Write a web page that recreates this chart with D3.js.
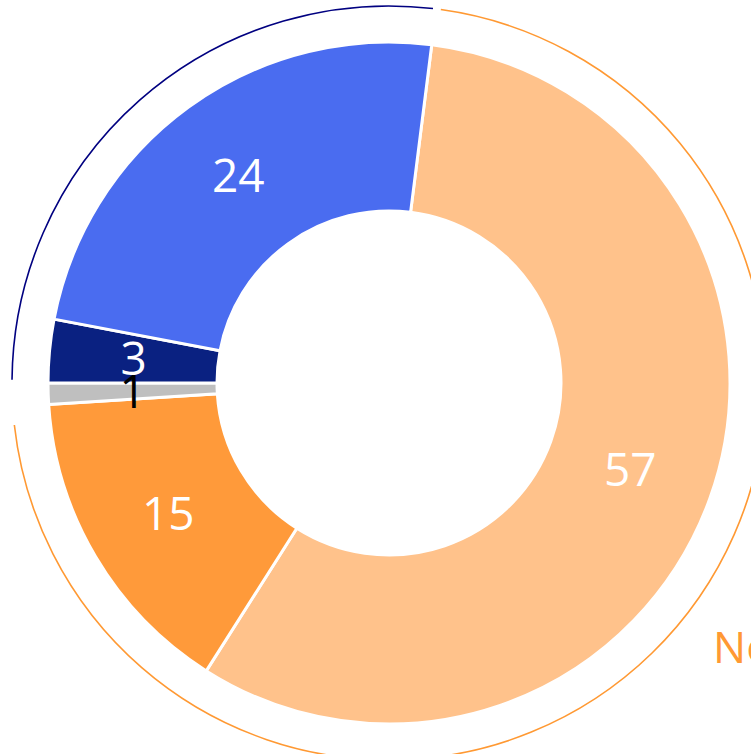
<!DOCTYPE html>
<html>
<head>
<meta charset="utf-8">
<script src="https://cdn.jsdelivr.net/npm/d3@7"></script>
<style>
  html, body { margin: 0; padding: 0; background: #fff; overflow: hidden; }
  svg { display: block; }
  .slice-label { font-family: "Open Sans", sans-serif; font-size: 46px; }
  .group-label { font-family: "Open Sans", sans-serif; font-size: 44px; }
</style>
</head>
<body>
<div class="chart-container"></div>
<script>
// Data
const categories = ['No, strongly', 'No, somewhat', "Don't know", 'Yes, strongly', 'Yes, somewhat'];
const values = [57, 15, 1, 3, 24];
const sliceColors = ['#ffc28b', '#ff9a3a', '#bfbfbf', '#0a2181', '#4a6cf0'];
const labelColors = ['#fff', '#fff', '#000', '#fff', '#fff'];

const groupNames = ['No', 'Yes'];
const groupMembers = [[0, 1], [3, 4]];
const groupColors = ['#ff9933', '#000080'];

// Layout
const width = 751, height = 754;
const cx = 389, cy = 383;
const innerR = 172, outerR = 341, ringR = 377;
const deg = Math.PI / 180;
const startAngle = 7.2 * deg;

const svg = d3.select('.chart-container')
              .append('svg')
              .attr('width', width)
              .attr('height', height);

const g = svg.append('g')
             .attr('transform', `translate(${cx},${cy})`);

const pie = d3.pie()
              .sort(null)
              .startAngle(startAngle)
              .endAngle(startAngle + 2 * Math.PI);
const arcs = pie(values);

const arc = d3.arc()
              .innerRadius(innerR)
              .outerRadius(outerR);

g.selectAll('path.slice')
 .data(arcs)
 .join('path')
 .attr('class', 'slice')
 .attr('d', arc)
 .attr('fill', (d, i) => sliceColors[i])
 .attr('stroke', '#fff')
 .attr('stroke-width', 3);

// Outer group rings
const groupPads = [[0.7, 2.8], [0.5, 0.5]];
const ring = d3.arc()
               .innerRadius(ringR)
               .outerRadius(ringR);

groupMembers.forEach((members, gi) => {
  const a0 = arcs[members[0]].startAngle + groupPads[gi][0] * deg;
  const a1 = arcs[members[members.length - 1]].endAngle - groupPads[gi][1] * deg;
  g.append('path')
   .attr('class', 'group-ring')
   .attr('d', ring({startAngle: a0, endAngle: a1}))
   .attr('fill', 'none')
   .attr('stroke', groupColors[gi])
   .attr('stroke-width', 1.6);
});

// Slice labels
const labelArc = d3.arc()
                   .innerRadius((innerR + outerR) / 2)
                   .outerRadius((innerR + outerR) / 2);

g.selectAll('text.slice-label')
 .data(arcs)
 .join('text')
 .attr('class', 'slice-label')
 .attr('transform', d => `translate(${labelArc.centroid(d)})`)
 .attr('text-anchor', 'middle')
 .attr('dy', '0.36em')
 .attr('fill', (d, i) => labelColors[i])
 .text(d => d.data);

// Group label (only "No" falls inside the frame)
svg.append('text')
   .attr('class', 'group-label')
   .attr('x', 713)
   .attr('y', 663)
   .attr('fill', groupColors[0])
   .text(groupNames[0]);
</script>
</body>
</html>
